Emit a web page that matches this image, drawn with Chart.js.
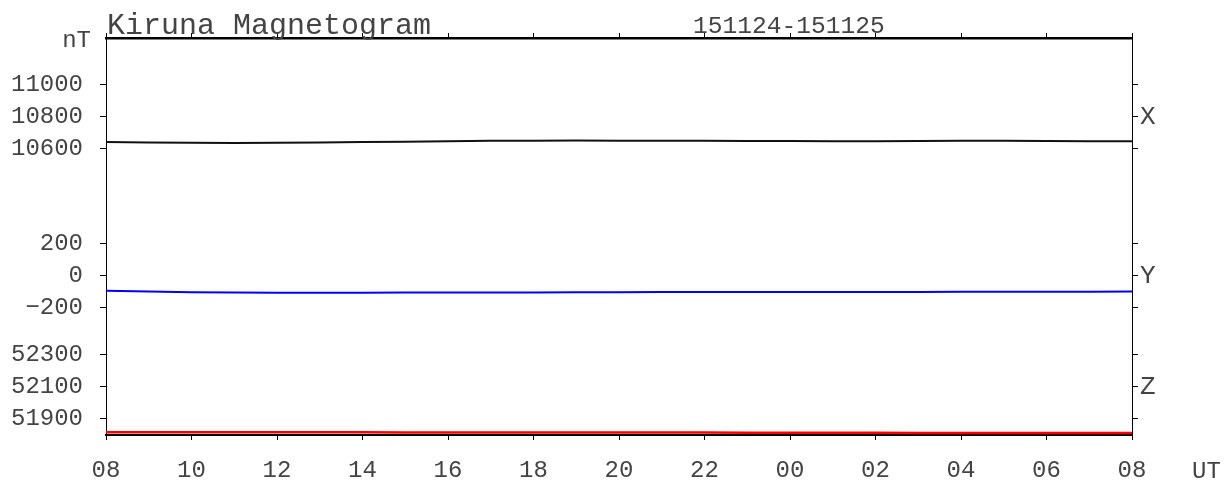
<!DOCTYPE html>
<html>
<head>
<meta charset="utf-8">
<title>Kiruna Magnetogram</title>
<script src="https://cdn.jsdelivr.net/npm/chart.js@4.4.1/dist/chart.umd.min.js"></script>
<style>
  html, body { margin: 0; padding: 0; background: #fff; }
  #wrap { width: 1226px; height: 484px; }
</style>
</head>
<body>
<div id="wrap"><canvas id="mag" width="1226" height="484"></canvas></div>
<script>
  // hours after 08 UT on 151124
  const hoursUT = [0, 1, 2, 3, 4, 5, 6, 7, 8, 9, 10, 11, 12, 13, 14, 15, 16, 17, 18, 19, 20, 21, 22, 23, 24];
  const compX = [10640, 10638, 10636, 10635, 10636, 10638, 10640, 10642, 10645, 10648, 10649, 10650, 10649,
    10648, 10648, 10647, 10647, 10646, 10646, 10647, 10648, 10648, 10647, 10646, 10645];
  const compY = [-95, -100, -104, -106, -107, -107, -107, -106, -106, -105, -105, -104, -104,
    -103, -103, -103, -103, -102, -102, -102, -101, -101, -101, -101, -100];
  const compZ = [51812, 51812, 51813, 51813, 51812, 51812, 51812, 51811, 51811, 51811, 51810, 51810, 51810,
    51810, 51810, 51809, 51809, 51809, 51809, 51808, 51808, 51808, 51808, 51808, 51808];

  const ticksX = [10600, 10800, 11000];
  const ticksY = [-200, 0, 200];
  const ticksZ = [51900, 52100, 52300];
  const hourTicks = [0, 2, 4, 6, 8, 10, 12, 14, 16, 18, 20, 22, 24];

  const MONO = '"Liberation Mono", "Courier New", monospace';
  const INK = '#444';

  const pts = (vals) => hoursUT.map((h, i) => ({ x: h, y: vals[i] }));
  const fmt = (v) => (v < 0 ? '\u2212' + Math.abs(v) : String(v));

  function panelAxis(pos, weight, min, max, ticks, name, stackWeight) {
    const left = pos === 'left';
    return {
      type: 'linear',
      position: pos,
      stack: pos,
      stackWeight,
      weight,
      min,
      max,
      afterBuildTicks: (s) => { s.ticks = ticks.map((v) => ({ value: v })); },
      afterFit: (s) => { s.width = left ? 106 : 94; },
      border: { display: true, color: '#000', width: 1 },
      grid: { drawOnChartArea: false, drawTicks: true, tickLength: 6, color: '#000', lineWidth: 1 },
      ticks: {
        autoSkip: false,
        padding: left ? 17 : 2,
        color: INK,
        font: { family: MONO, size: left ? 24 : 26 },
        callback: (v, i) => (left ? fmt(v) : (i === 1 ? name : '')),
      },
    };
  }

  const textPlugin = {
    id: 'magText',
    afterDraw(chart) {
      const ctx = chart.ctx;
      ctx.save();
      ctx.fillStyle = INK;
      ctx.textBaseline = 'alphabetic';
      ctx.font = '30px ' + MONO;
      ctx.textAlign = 'left';
      ctx.fillText('Kiruna Magnetogram', 107, 34);
      ctx.font = '24.6px ' + MONO;
      ctx.fillText('151124-151125', 693, 33);
      ctx.font = '24px ' + MONO;
      ctx.fillText('UT', 1192, 478);
      ctx.textAlign = 'right';
      ctx.fillText('nT', 91, 47);
      ctx.restore();
    },
  };

  new Chart(document.getElementById('mag'), {
    type: 'line',
    data: {
      datasets: [
        { label: 'X', data: pts(compX), yAxisID: 'yX', borderColor: '#111', borderWidth: 2 },
        { label: 'Y', data: pts(compY), yAxisID: 'yY', borderColor: '#0000ff', borderWidth: 2 },
        { label: 'Z', data: pts(compZ), yAxisID: 'yZ', borderColor: '#ff0000', borderWidth: 2.5 },
      ],
    },
    options: {
      responsive: false,
      devicePixelRatio: 1,
      animation: false,
      layout: { padding: 0 },
      elements: { point: { radius: 0 }, line: { tension: 0 } },
      plugins: { legend: { display: false }, tooltip: { enabled: false } },
      scales: {
        x: {
          type: 'linear',
          position: 'bottom',
          min: 0,
          max: 24,
          afterBuildTicks: (s) => { s.ticks = hourTicks.map((v) => ({ value: v })); },
          afterFit: (s) => { s.height = 49; },
          border: { display: true, color: '#000', width: 2 },
          grid: { drawOnChartArea: false, drawTicks: true, tickLength: 5, color: '#000', lineWidth: 1 },
          ticks: {
            autoSkip: false,
            padding: 16,
            color: INK,
            maxRotation: 0,
            font: { family: MONO, size: 24 },
            callback: (v) => String((8 + v) % 24).padStart(2, '0'),
          },
        },
        xTop: {
          type: 'linear',
          position: 'top',
          min: 0,
          max: 24,
          afterBuildTicks: (s) => { s.ticks = hourTicks.map((v) => ({ value: v })); },
          afterFit: (s) => { s.height = 38; },
          border: { display: true, color: '#000', width: 2.5 },
          grid: { drawOnChartArea: false, drawTicks: true, tickLength: 5, color: '#000', lineWidth: 1 },
          ticks: { autoSkip: false, callback: () => '', font: { size: 1 } },
        },
        yX: panelAxis('left', 3, 10275, 11296, ticksX, 'X', 162),
        yY: panelAxis('left', 2, -405, 477, ticksY, 'Y', 140),
        yZ: panelAxis('left', 1, 51795, 52394, ticksZ, 'Z', 95),
        rX: panelAxis('right', 1, 10275, 11296, ticksX, 'X', 162),
        rY: panelAxis('right', 2, -405, 477, ticksY, 'Y', 140),
        rZ: panelAxis('right', 3, 51795, 52394, ticksZ, 'Z', 95),
      },
    },
    plugins: [textPlugin],
  });
</script>
</body>
</html>
